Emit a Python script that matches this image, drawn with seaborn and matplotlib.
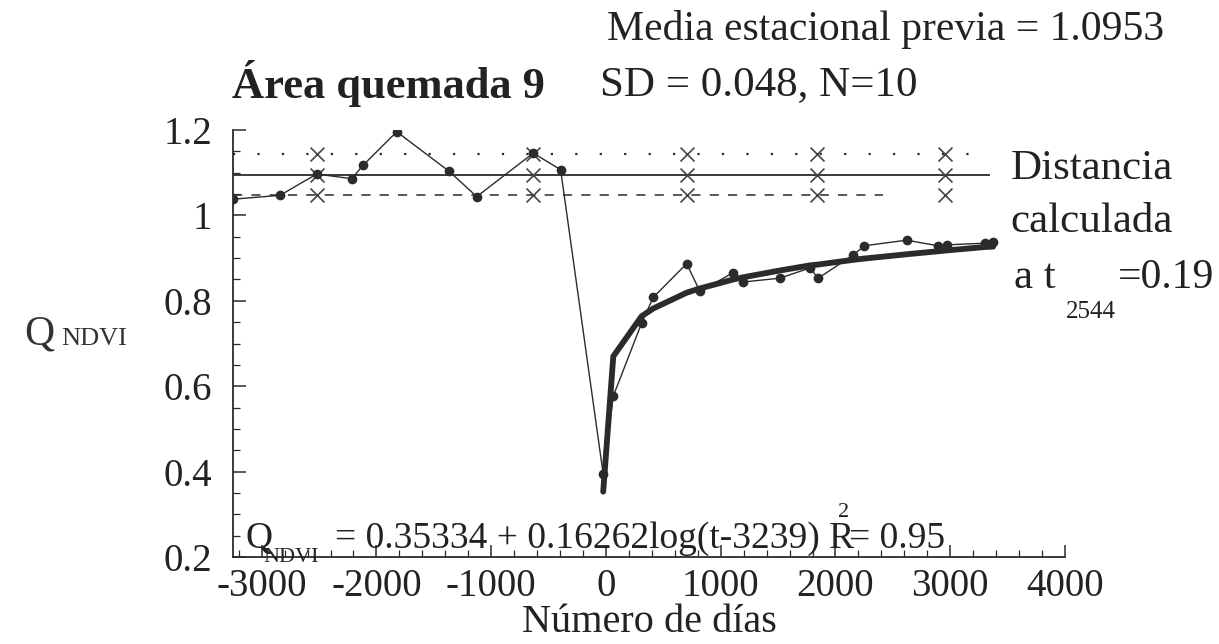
import numpy as np
import pandas as pd
import seaborn as sns
import matplotlib.pyplot as plt
from matplotlib.ticker import MultipleLocator, FuncFormatter

# observed Q_NDVI series (days relative to the fire)
days = [-3250, -2840, -2520, -2215, -2114, -1823, -1365, -1126, -633, -395,
        -24, 64, 311, 412, 703, 819, 1109, 1193, 1516, 1777, 1849, 2154,
        2252, 2619, 2892, 2968, 3301, 3374]
q_ndvi = [1.038, 1.047, 1.097, 1.086, 1.118, 1.196, 1.103, 1.044, 1.146, 1.107,
          0.394, 0.577, 0.748, 0.808, 0.887, 0.822, 0.866, 0.844, 0.853, 0.877,
          0.853, 0.907, 0.929, 0.942, 0.929, 0.931, 0.935, 0.937]

# fitted recovery curve (thick line)
fit_days = [-24, 64, 311, 412, 703, 819, 1109, 1193, 1516, 1777, 1849, 2154,
            2252, 2619, 2892, 2968, 3301, 3374]
fit_q = [0.353, 0.670, 0.764, 0.782, 0.819, 0.829, 0.850, 0.855, 0.871, 0.883,
         0.885, 0.896, 0.899, 0.909, 0.916, 0.918, 0.926, 0.927]

# seasonal reference: mean and +-SD
mean_prev = 1.0953
sd_prev = 0.048
ref_days = [-2520, -633, 706, 1838, 2953]
line_end = 3345
dash_end = 2413

ink = "#2b2b2b"
txt = "#222222"
serif = ["Liberation Serif", "DejaVu Serif"]

sns.set_style("ticks")
plt.rcParams["font.family"] = serif
plt.rcParams["axes.unicode_minus"] = False

fig = plt.figure(figsize=(12.19, 6.44), dpi=100)
ax = fig.add_axes([0.1911, 0.1351, 0.6826, 0.663])

x0 = days[0]
ax.hlines(mean_prev, x0, line_end, color=ink, lw=1.3)
ax.hlines(mean_prev + sd_prev, x0, line_end, color=ink, lw=1.6, linestyles=(0, (1, 10)))
ax.hlines(mean_prev - sd_prev, x0, dash_end, color=ink, lw=1.1, linestyles=(0, (6, 6)))

ref = pd.DataFrame({
    "dia": ref_days * 3,
    "q": [mean_prev + sd_prev] * 5 + [mean_prev] * 5 + [mean_prev - sd_prev] * 5,
})
sns.scatterplot(data=ref, x="dia", y="q", marker="x", s=100, color="#444444",
                linewidth=1.2, ax=ax, zorder=3)

obs = pd.DataFrame({"dia": days, "q": q_ndvi})
sns.lineplot(data=obs, x="dia", y="q", color=ink, lw=1.0, marker="o",
             markersize=7, markeredgewidth=0, ax=ax, zorder=4)

fit = pd.DataFrame({"dia": fit_days, "q": fit_q})
sns.lineplot(data=fit, x="dia", y="q", color=ink, lw=4.2, ax=ax, zorder=5)

ax.set_xlim(-3250, 4000)
ax.set_ylim(0.2, 1.2)
ax.xaxis.set_major_locator(MultipleLocator(1000))
ax.xaxis.set_minor_locator(MultipleLocator(200))
ax.yaxis.set_major_locator(MultipleLocator(0.2))
ax.yaxis.set_minor_locator(MultipleLocator(0.05))
ax.yaxis.set_major_formatter(FuncFormatter(lambda v, p: f"{v:g}"))
ax.tick_params(which="major", direction="in", length=9, width=1.1, color=ink,
               labelsize=28, labelcolor=txt, pad=8)
ax.tick_params(which="minor", direction="in", length=5, width=0.9, color=ink)
ax.tick_params(axis="y", which="major", pad=15)
sns.despine(ax=ax)
for side in ["left", "bottom"]:
    ax.spines[side].set_color(ink)
    ax.spines[side].set_linewidth(1.3)
for lab in ax.get_xticklabels() + ax.get_yticklabels():
    lab.set_family(serif)
ax.set_xlabel("Número de días", fontsize=29, color=txt, labelpad=-1)
ax.set_ylabel("")

# y label drawn as Q + small NDVI
fig.text(0.020, 0.465, "Q", fontsize=30, color="#333333")
fig.text(0.050, 0.465, "NDVI", fontsize=19, color="#333333")

# header texts
fig.text(0.19, 0.848, "Área quemada 9", fontsize=32, fontweight="bold", color=txt)
fig.text(0.498, 0.938, "Media estacional previa = 1.0953", fontsize=30, color=txt)
fig.text(0.492, 0.852, "SD = 0.048, N=10", fontsize=31, color=txt)

# calculated distance note
fig.text(0.829, 0.722, "Distancia", fontsize=31, color=txt)
fig.text(0.829, 0.640, "calculada", fontsize=31, color=txt)
fig.text(0.832, 0.553, "a t", fontsize=31, color=txt)
fig.text(0.874, 0.506, "2544", fontsize=18, color=txt)
fig.text(0.917, 0.553, "=0.19", fontsize=30, color=txt)

# fitted equation
fig.text(0.201, 0.149, "Q", fontsize=27, color=txt)
fig.text(0.216, 0.128, "NDVI", fontsize=16, color=txt)
eq_main = fig.text(0.275, 0.149, "= 0.35334 + 0.16262log(t-3239) R", fontsize=27, color=txt)
ax.annotate("2", xy=(1, 1), xycoords=eq_main, xytext=(-12, 0), textcoords="offset points",
            fontsize=16, color=txt, va="bottom")
ax.annotate("= 0.95", xy=(1, 0), xycoords=eq_main, xytext=(-4, 0), textcoords="offset points",
            fontsize=27, color=txt, va="bottom")

fig.savefig("out.png", dpi=100)
